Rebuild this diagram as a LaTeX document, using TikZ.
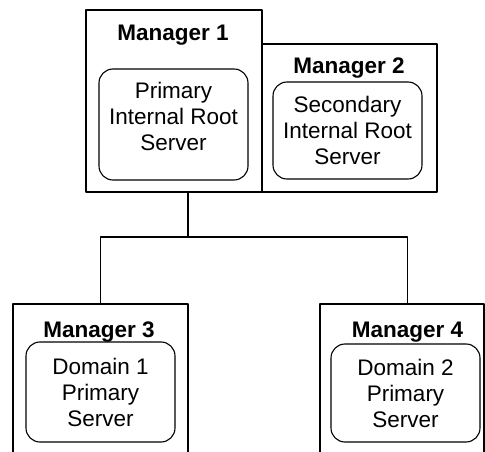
\documentclass[tikz,border=0pt]{standalone}
\usepackage{fontspec}
\setmainfont{Liberation Sans}
\usetikzlibrary{positioning}
\newcommand{\dgmfont}{\fontsize{22.5}{26}\selectfont}
\tikzset{
  wire/.style={line width=1.1pt},
  mgrbox/.style={draw, line width=1.1pt, inner sep=0pt},
  srvbox/.style={draw, line width=1.1pt, rounded corners=14pt, minimum width=149pt, inner sep=0pt, align=center, font=\dgmfont},
  mgrlabel/.style={anchor=base, inner sep=0pt, font=\dgmfont\bfseries},
}
\begin{document}
\begin{tikzpicture}[x=1pt,y=-1pt,line cap=round,line join=round]
\useasboundingbox (0,0) rectangle (485,452);
\clip (0,0) rectangle (485,452);
% manager boxes
\node[mgrbox, minimum width=176pt, minimum height=182pt] (mgr1) at (174,101) {};
\node[mgrbox, minimum width=175pt, minimum height=148pt] (mgr2) at (349.5,118) {};
\node[mgrbox, minimum width=175pt, minimum height=166pt] (mgr3) at (100.5,387) {};
\node[mgrbox, minimum width=164pt, minimum height=166pt] (mgr4) at (402,387) {};
\node[mgrlabel] (lab1) at (173,41) {Manager 1};
\node[mgrlabel] (lab2) at (349,74) {Manager 2};
\node[mgrlabel] (lab3) at (99,337.5) {Manager 3};
\node[mgrlabel] (lab4) at (407.5,337.5) {Manager 4};
% servers
\node[srvbox, minimum height=111pt] (srv1) at (173.5,124.5) {};
\node[align=center, inner sep=0pt, font=\dgmfont] (srv1txt) at (173.5,116) {Primary\\Internal Root\\Server};
\node[srvbox, minimum height=97pt] (srv2) at (347.5,130.5) {Secondary\\Internal Root\\Server};
\node[srvbox, minimum height=100pt] (srv3) at (100.5,392) {Domain 1\\Primary\\Server};
\node[srvbox, minimum height=98pt] (srv4) at (405.5,393) {Domain 2\\Primary\\Server};
% connectors
\coordinate (bus) at (188,237);
\draw[wire] ([xshift=14pt]mgr1.south) -- (bus);
\draw[wire] (mgr3.north) |- (bus) -| ([xshift=5.5pt]mgr4.north);
\end{tikzpicture}
\end{document}
